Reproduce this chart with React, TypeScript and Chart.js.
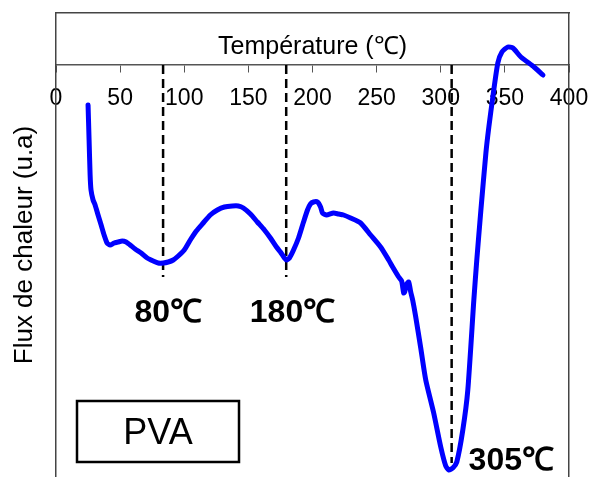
import React, { useEffect, useRef } from 'react';
import { Chart, registerables } from 'chart.js';

Chart.register(...registerables);

// ---- data ----
const temperature = [
  25.0, 25.8, 26.6, 27.3, 28.9, 30.5, 32.8, 35.2, 37.5, 39.8, 42.2, 45.3, 48.4, 51.6, 54.7, 57.8,
  61.7, 66.4, 71.1, 75.8, 79.7, 83.6, 87.5, 91.4, 95.3, 100.0, 104.7, 109.4, 114.8, 120.3, 125.8,
  131.3, 137.5, 142.2, 146.1, 151.6, 157.0, 162.5, 167.2, 171.9, 175.0, 178.1, 179.7, 182.0, 185.2,
  189.1, 193.0, 196.1, 198.4, 200.8, 203.9, 206.3, 207.8, 210.9, 216.4, 220.3, 224.2, 229.7, 237.5,
  245.3, 253.1, 259.4, 262.5, 267.2, 269.5, 271.1, 271.9, 273.4, 275.0, 276.6, 278.1, 280.5, 284.4,
  288.3, 294.5, 300.0, 303.9, 306.3, 309.4, 312.5, 317.2, 321.1, 325.8, 328.1, 331.3, 335.2, 337.5,
  340.6, 344.5, 347.7, 352.3, 356.3, 362.5, 372.7, 379.7,
];
const flux = [
  -10.0, -18.75, -27.5, -31.25, -33.75, -35.0, -37.5, -40.0, -42.5, -44.5, -45.0, -44.5, -44.25, -44.0, -44.25, -45.0,
  -46.0, -47.0, -48.25, -49.0, -49.5, -49.5, -49.25, -48.75, -47.75, -46.25, -43.75, -41.5, -39.5, -37.5, -36.25,
  -35.5, -35.25, -35.25, -35.75, -37.25, -39.25, -41.25, -43.25, -45.5, -46.75, -48.25, -48.75, -48.25, -46.25,
  -43.25, -39.25, -36.25, -34.75, -34.25, -34.25, -35.5, -37.0, -37.5, -37.0, -37.25, -37.5, -38.25, -39.5,
  -42.5, -45.5, -48.75, -50.5, -53.0, -54.0, -57.0, -56.75, -54.75, -54.25, -56.75, -58.75, -63.0, -70.75,
  -78.75, -87.0, -95.5, -100.25, -101.25, -100.75, -99.25, -91.25, -81.25, -58.75, -48.75, -36.25, -22.0, -15.5,
  -8.0, 0.5, 3.25, 4.5, 4.25, 2.0, -0.5, -2.5,
];

const peakTemps = [83.5, 179.5, 308.5];
const peakDepth = [-53, -53, -99.5];
const peakLabels = ['80℃', '180℃', '305℃'];
const peakLabelX = [87.5, 184.4, 355];
const peakLabelY = [-64.25, -64.25, -101.25];

const xTitle = 'Température (℃)';
const yTitle = 'Flux de chaleur (u.a)';
const sampleName = 'PVA';

const FONT = '"Liberation Sans", Arial, Helvetica, sans-serif';

const annotationPlugin = {
  id: 'dscAnnotations',
  afterDatasetsDraw(chart: any) {
    const { ctx, chartArea, scales } = chart;
    const x = scales.x;
    const y = scales.y;
    ctx.save();
    // axis title inside the upper band
    ctx.fillStyle = '#000';
    ctx.font = `25px ${FONT}`;
    ctx.textAlign = 'center';
    ctx.textBaseline = 'alphabetic';
    ctx.fillText(xTitle, (chartArea.left + chartArea.right) / 2, y.getPixelForValue(0) - 11);

    // peak labels
    ctx.font = `bold 32px ${FONT}`;
    peakLabels.forEach((t, i) => {
      ctx.fillText(t, x.getPixelForValue(peakLabelX[i]), y.getPixelForValue(peakLabelY[i]));
    });

    // sample name box
    const bx0 = chartArea.left + 21;
    const by0 = chartArea.top + 388;
    const bw = 162;
    const bh = 61;
    ctx.lineWidth = 2.5;
    ctx.strokeStyle = '#000';
    ctx.strokeRect(bx0, by0, bw, bh);
    ctx.font = `36px ${FONT}`;
    ctx.fillText(sampleName, bx0 + bw / 2, by0 + 43);
    ctx.restore();
  },
};

export default function App() {
  const ref = useRef<HTMLCanvasElement | null>(null);

  useEffect(() => {
    if (!ref.current) return;
    Chart.defaults.font.family = FONT;
    const curve = temperature.map((t, i) => ({ x: t, y: flux[i] }));
    const dashed = peakTemps.map((t, i) => ({
      type: 'line' as const,
      data: [
        { x: t, y: 0 },
        { x: t, y: peakDepth[i] },
      ],
      borderColor: '#000',
      borderWidth: 2.5,
      borderDash: [9, 5],
      pointRadius: 0,
      order: 2,
    }));
    const chart = new Chart(ref.current, {
      type: 'line',
      data: {
        datasets: [
          {
            data: curve,
            borderColor: '#0000FF',
            borderWidth: 5,
            pointRadius: 0,
            tension: 0.2,
            borderJoinStyle: 'round',
            borderCapStyle: 'round',
            order: 1,
          } as any,
          ...dashed,
        ],
      },
      options: {
        animation: false,
        responsive: true,
        maintainAspectRatio: false,
        layout: { padding: 0 },
        plugins: { legend: { display: false }, tooltip: { enabled: false } },
        scales: {
          x: {
            type: 'linear',
            min: 0,
            max: 400,
            position: { y: 0 } as any,
            ticks: {
              stepSize: 50,
              color: '#000',
              font: { size: 23, family: FONT },
              padding: 13,
              maxRotation: 0,
            },
            grid: { drawOnChartArea: false, drawTicks: true, tickLength: 7, color: '#555', lineWidth: 1 },
            border: { display: true, color: '#555', width: 1.5 },
            afterFit: (s: any) => {
              s.paddingLeft = 0;
              s.paddingRight = 0;
            },
          },
          x2: {
            type: 'linear',
            position: 'top',
            ticks: { display: false },
            grid: { display: false },
            border: { display: true, color: '#444', width: 1.5 },
            afterFit: (s: any) => {
              s.height = 13;
              s.paddingLeft = 0;
              s.paddingRight = 0;
            },
          },
          y: {
            type: 'linear',
            min: -103,
            max: 13,
            position: 'left',
            ticks: { display: false },
            grid: { display: false },
            border: { display: true, color: '#444', width: 1.5 },
            title: {
              display: true,
              text: yTitle,
              color: '#000',
              font: { size: 26, family: FONT },
              padding: { top: 9, bottom: 0 },
            },
            afterFit: (s: any) => {
              s.width = 56;
              s.paddingTop = 0;
              s.paddingBottom = 0;
            },
          },
          y2: {
            type: 'linear',
            position: 'right',
            ticks: { display: false },
            grid: { display: false },
            border: { display: true, color: '#444', width: 1.5 },
            afterFit: (s: any) => {
              s.width = 22;
              s.paddingTop = 0;
              s.paddingBottom = 0;
            },
          },
        },
      },
      plugins: [annotationPlugin],
    });
    return () => chart.destroy();
  }, []);

  return (
    <div style={{ position: 'fixed', left: 0, top: 0, width: 591, height: 477, background: '#fff' }}>
      <canvas ref={ref} />
    </div>
  );
}
